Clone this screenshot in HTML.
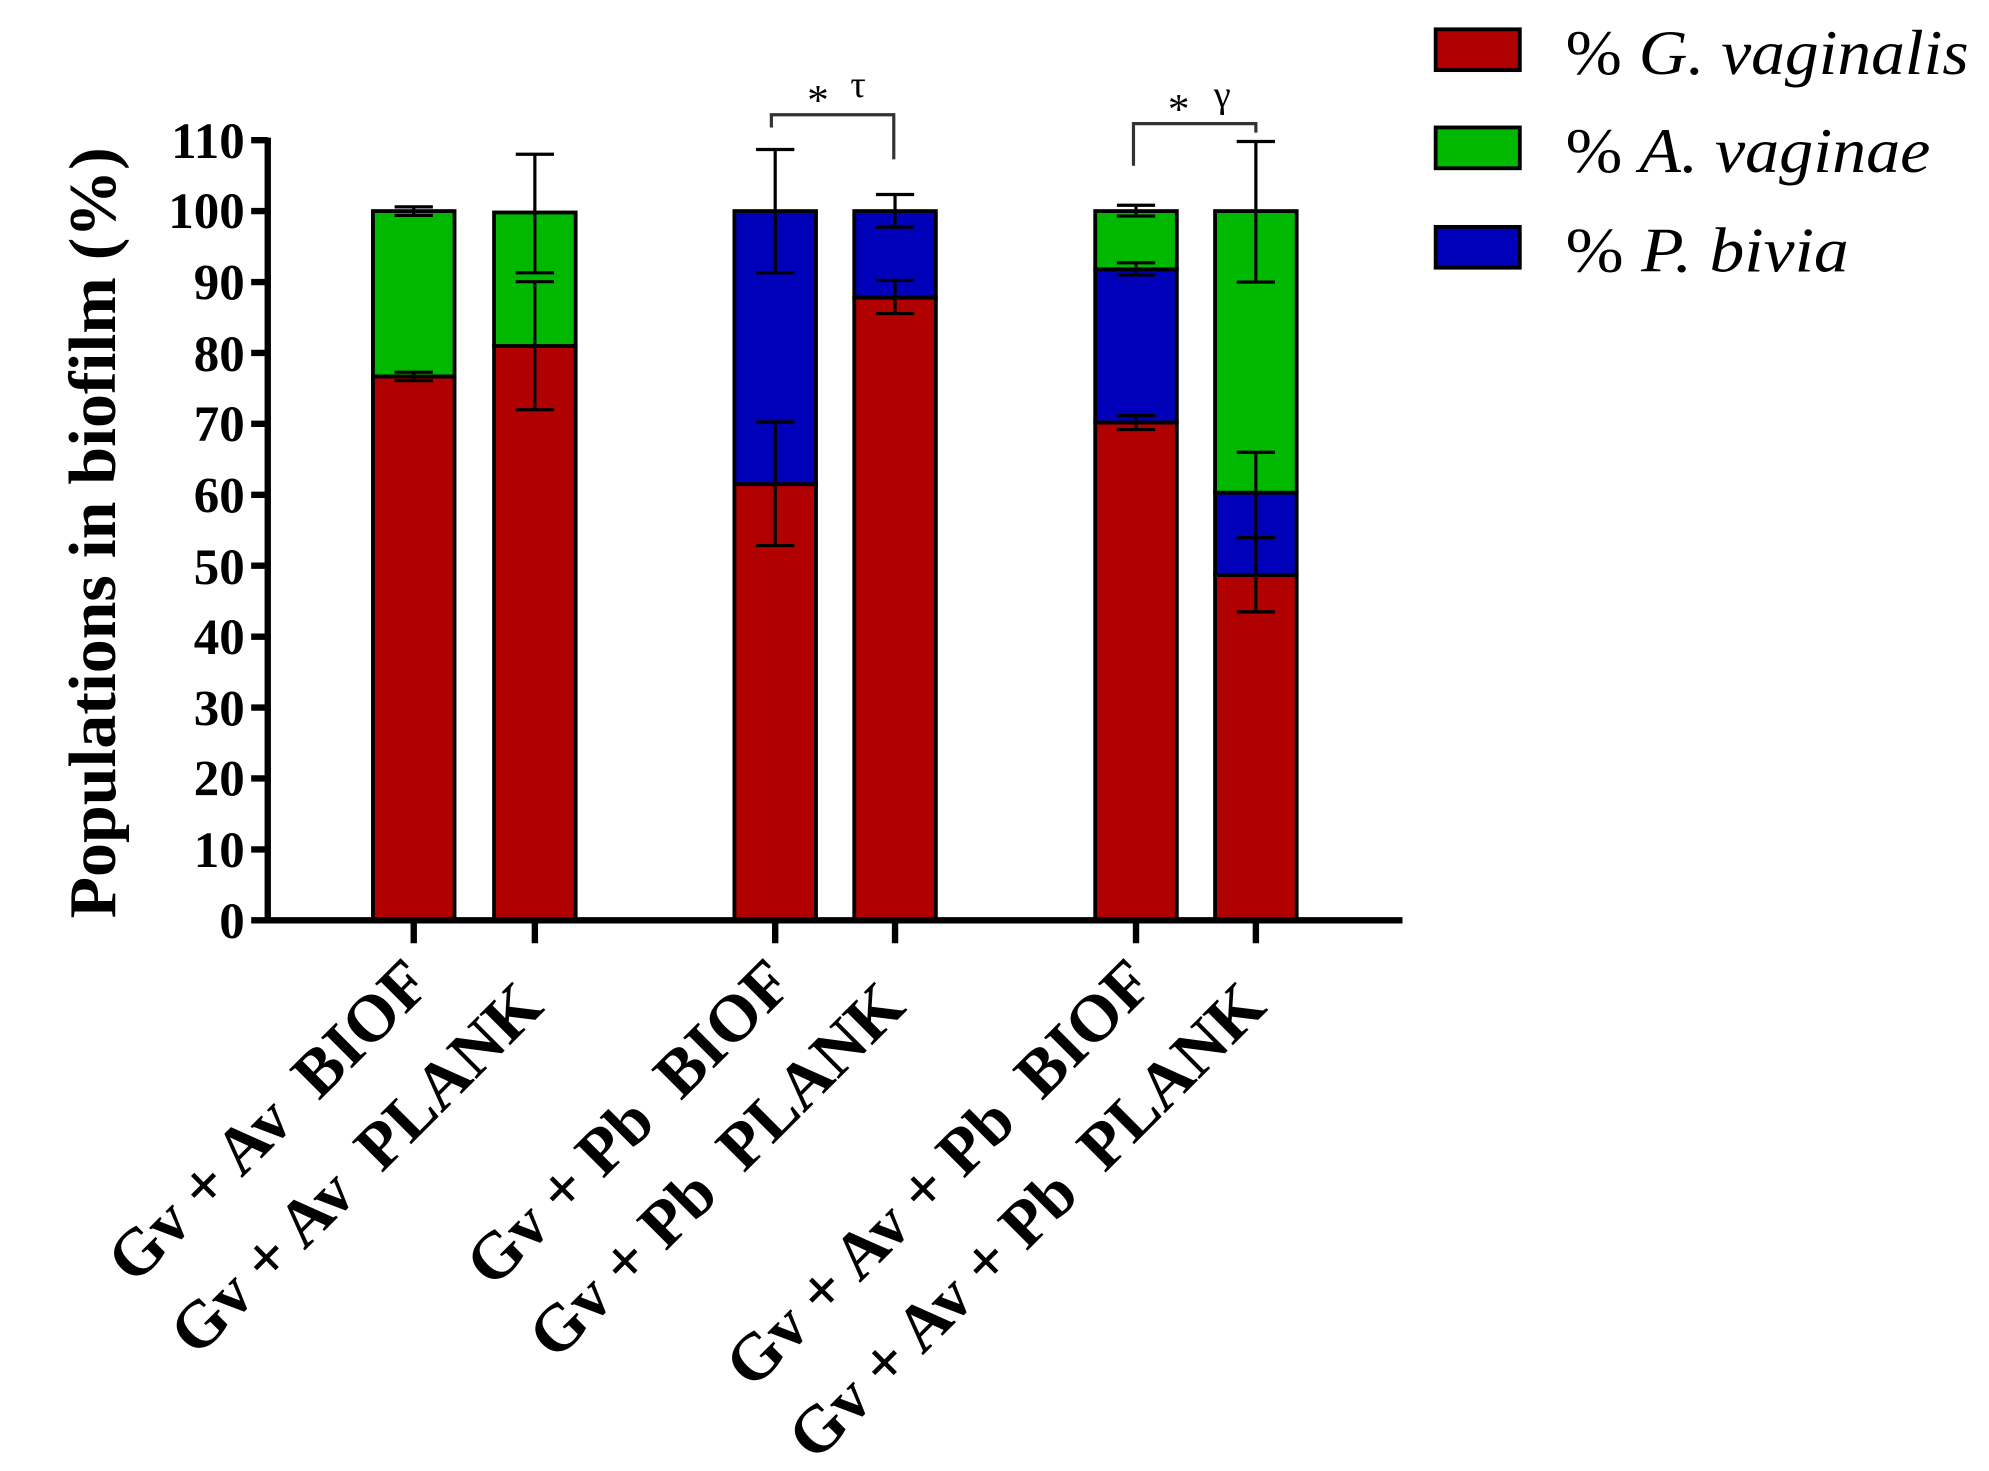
<!DOCTYPE html>
<html><head><meta charset="utf-8"><style>html,body{margin:0;padding:0;background:#fff}svg{display:block}</style></head>
<body>
<svg width="1989" height="1471" viewBox="0 0 1560 1154" preserveAspectRatio="none" xmlns="http://www.w3.org/2000/svg" font-family="Liberation Serif, serif">
<g stroke="#000" stroke-width="3">
<rect x="292.5" y="295.3" width="64" height="426.7" fill="#b00000"/>
<rect x="292.5" y="165.6" width="64" height="129.7" fill="#00b800"/>
<rect x="387.5" y="271.4" width="64" height="450.6" fill="#b00000"/>
<rect x="387.5" y="166.7" width="64" height="104.7" fill="#00b800"/>
<rect x="576" y="379.8" width="64" height="342.2" fill="#b00000"/>
<rect x="576" y="165.6" width="64" height="214.2" fill="#0000b8"/>
<rect x="670" y="233.5" width="64" height="488.5" fill="#b00000"/>
<rect x="670" y="165.6" width="64" height="67.9" fill="#0000b8"/>
<rect x="859" y="331.4" width="64" height="390.6" fill="#b00000"/>
<rect x="859" y="211.3" width="64" height="120.1" fill="#0000b8"/>
<rect x="859" y="165.6" width="64" height="45.7" fill="#00b800"/>
<rect x="953" y="451.1" width="64" height="270.9" fill="#b00000"/>
<rect x="953" y="386.5" width="64" height="64.6" fill="#0000b8"/>
<rect x="953" y="165.6" width="64" height="220.9" fill="#00b800"/>
</g>
<g stroke="#000" stroke-width="2.5" fill="none">
<path d="M324.5 162.3V169 M309.5 162.3H339.5 M309.5 169H339.5"/>
<path d="M324.5 292V298.6 M309.5 292H339.5 M309.5 298.6H339.5"/>
<path d="M419.5 121V214 M404.5 121H434.5 M404.5 214H434.5"/>
<path d="M419.5 221V321.4 M404.5 221H434.5 M404.5 321.4H434.5"/>
<path d="M608 117.3V214 M593 117.3H623 M593 214H623"/>
<path d="M608 331V428 M593 331H623 M593 428H623"/>
<path d="M702 152.6V178.2 M687 152.6H717 M687 178.2H717"/>
<path d="M702 220V246 M687 220H717 M687 246H717"/>
<path d="M891 161V169.5 M876 161H906 M876 169.5H906"/>
<path d="M891 206.2V215.7 M876 206.2H906 M876 215.7H906"/>
<path d="M891 326V337 M876 326H906 M876 337H906"/>
<path d="M985 111V221.3 M970 111H1000 M970 221.3H1000"/>
<path d="M985 354.8V421.7 M970 354.8H1000 M970 421.7H1000"/>
<path d="M985 420V480 M970 480H1000"/>
</g>
<g stroke="#000" stroke-width="5" fill="none">
<path d="M210 108V724"/>
<path d="M207 722H1100"/>
<path d="M197 110H210 M197 165.6H210 M197 221.3H210 M197 276.9H210 M197 332.5H210 M197 388.2H210 M197 443.8H210 M197 499.5H210 M197 555.1H210 M197 610.7H210 M197 666.4H210 M197 722H210"/>
<path d="M324.5 722V740 M419.5 722V740 M608 722V740 M702 722V740 M891 722V740 M985 722V740"/>
</g>
<g font-size="40" font-weight="bold" text-anchor="end">
<text x="192" y="736">0</text><text x="192" y="680">10</text><text x="192" y="624">20</text><text x="192" y="569">30</text><text x="192" y="513">40</text><text x="192" y="458">50</text><text x="192" y="402">60</text><text x="192" y="346">70</text><text x="192" y="291">80</text><text x="192" y="235">90</text><text x="192" y="179">100</text><text x="192" y="124">110</text>
</g>
<text transform="translate(90,418) rotate(-90)" font-size="52" font-weight="bold" text-anchor="middle" textLength="605" lengthAdjust="spacingAndGlyphs">Populations in biofilm (%)</text>
<g stroke="#333" stroke-width="2.5" fill="none">
<path d="M605 100V90H701V125"/>
<path d="M889 130V97H985V104"/>
</g>
<g font-size="34" fill="#000">
<text x="633" y="90">*</text><text x="667" y="76" font-size="30">τ</text>
<text x="916" y="97">*</text><text x="952" y="84" font-size="30">γ</text>
</g>
<g font-size="52" font-weight="bold" text-anchor="end">
<text transform="translate(340,774) rotate(-45)" xml:space="preserve">Gv + Av  BIOF</text>
<text transform="translate(428,792) rotate(-45)" xml:space="preserve">Gv + Av  PLANK</text>
<text transform="translate(624,774) rotate(-45)" xml:space="preserve">Gv + Pb  BIOF</text>
<text transform="translate(712,792) rotate(-45)" xml:space="preserve">Gv + Pb  PLANK</text>
<text transform="translate(907,774) rotate(-45)" xml:space="preserve">Gv + Av + Pb  BIOF</text>
<text transform="translate(995,792) rotate(-45)" xml:space="preserve">Gv + Av + Pb  PLANK</text>
</g>
<g stroke="#000" stroke-width="3">
<rect x="1126" y="23" width="66" height="32" fill="#b00000"/>
<rect x="1126" y="100" width="66" height="32" fill="#00b800"/>
<rect x="1126" y="178" width="66" height="32" fill="#0000b8"/>
</g>
<g font-size="50">
<text x="1228" y="58" textLength="316" lengthAdjust="spacingAndGlyphs">% <tspan font-style="italic">G. vaginalis</tspan></text>
<text x="1228" y="135" textLength="286" lengthAdjust="spacingAndGlyphs">% <tspan font-style="italic">A. vaginae</tspan></text>
<text x="1228" y="213" textLength="222" lengthAdjust="spacingAndGlyphs">% <tspan font-style="italic">P. bivia</tspan></text>
</g>
</svg>
</body></html>
